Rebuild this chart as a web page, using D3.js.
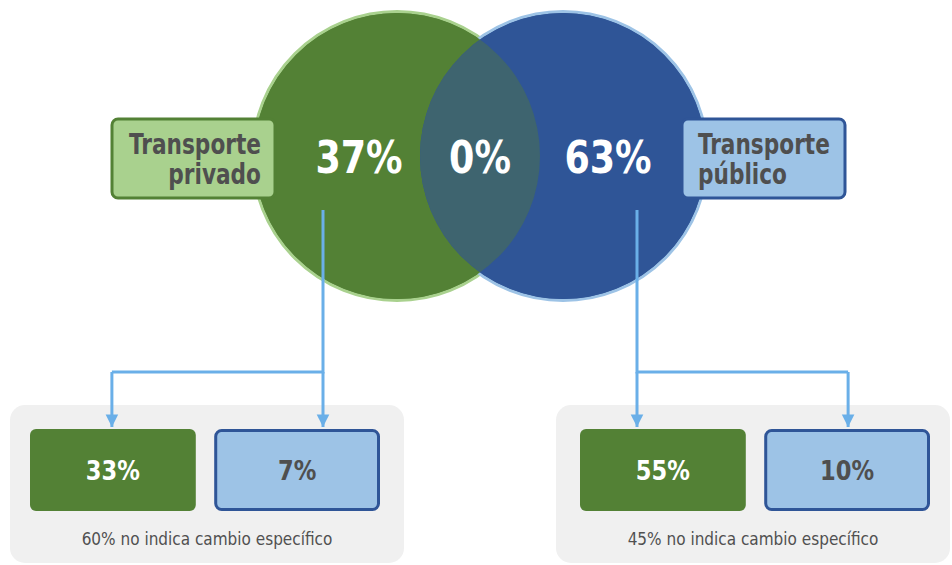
<!DOCTYPE html>
<html>
<head>
<meta charset="utf-8">
<script src="https://cdn.jsdelivr.net/npm/d3@7"></script>
<style>
  body { margin: 0; background: #fff; }
  svg { display: block; }
  text { font-family: "DejaVu Sans Condensed", "DejaVu Sans", sans-serif; }
</style>
</head>
<body>
<svg id="canvas" width="952" height="565"></svg>
<script>
// data
const groups = ["Transporte privado", "Transporte público"];
const groupLines = [["Transporte", "privado"], ["Transporte", "público"]];
const vennValues = [37, 0, 63]; // privado only, both, público only
const subLabels = ["cambio privado", "cambio público"];
const subValues = [[33, 7], [55, 10]];
const noChange = [60, 45];

const green = "#538135", lightGreen = "#a9d18e";
const blue = "#2f5597", lightBlue = "#9dc3e6";
const arrowBlue = "#6aafe8", textGrey = "#4f4f4f";

let canvas = d3.select("#canvas");
let defs = canvas.append("defs");

// venn circles
let cy = 156, r = 143;
let cx = d3.scalePoint().domain(groups).range([397, 563]);

defs.append("clipPath").attr("id", "clipLeft")
  .append("circle").attr("cx", cx(groups[0])).attr("cy", cy).attr("r", r);

// outer rings first, then fills on top so only the outside arcs stay visible
canvas.selectAll("circle.ring")
  .data(groups)
  .enter()
  .append("circle")
  .attr("class", "ring")
  .attr("cx", (g) => cx(g))
  .attr("cy", cy)
  .attr("r", r + 1.5)
  .attr("fill", (g, i) => i === 0 ? green : blue)
  .attr("stroke", (g, i) => i === 0 ? lightGreen : lightBlue)
  .attr("stroke-width", 3);

canvas.selectAll("circle.venn")
  .data(groups)
  .enter()
  .append("circle")
  .attr("class", "venn")
  .attr("cx", (g) => cx(g))
  .attr("cy", cy)
  .attr("r", r)
  .attr("fill", (g, i) => i === 0 ? green : blue);

// overlap lens
canvas.append("circle")
  .attr("cx", cx(groups[1]))
  .attr("cy", cy)
  .attr("r", r)
  .attr("clip-path", "url(#clipLeft)")
  .attr("fill", "#3e646f");

// percentages in venn
let vennX = [359, 480, 608];
canvas.selectAll("text.venn")
  .data(vennValues)
  .enter()
  .append("text")
  .attr("class", "venn")
  .attr("transform", (v, i) => "translate(" + vennX[i] + ",173) scale(0.9,1)")
  .attr("text-anchor", "middle")
  .attr("fill", "#fff")
  .attr("font-size", 45)
  .attr("font-weight", "bold")
  .text((v) => v + "%");

// label boxes
let labelBox = [
  { x: 112, fill: lightGreen, stroke: green, anchor: "end", tx: 261 },
  { x: 682, fill: lightBlue, stroke: blue, anchor: "start", tx: 698 }
];
let label = canvas.selectAll("g.label")
  .data(groups)
  .enter()
  .append("g")
  .attr("class", "label");

label.append("rect")
  .attr("x", (g, i) => labelBox[i].x)
  .attr("y", 119)
  .attr("width", 163)
  .attr("height", 79)
  .attr("rx", 6)
  .attr("fill", (g, i) => labelBox[i].fill)
  .attr("stroke", (g, i) => labelBox[i].stroke)
  .attr("stroke-width", 3);

label.each(function (g, i) {
  d3.select(this).selectAll("text")
    .data(groupLines[i])
    .enter()
    .append("text")
    .attr("transform", (t, j) => "translate(" + labelBox[i].tx + "," + (154 + j * 30) + ") scale(0.86,1)")
    .attr("text-anchor", labelBox[i].anchor)
    .attr("fill", textGrey)
    .attr("font-size", 28)
    .attr("font-weight", "bold")
    .text((t) => t);
});

// bottom panels
let panelX = d3.scaleBand().domain(groups).range([10, 950]).paddingInner(0.2784);
let boxX = d3.scaleBand().domain(subLabels).range([20, 370]).paddingInner(0.1);
let boxShift = [0, 4]; // right panel boxes sit a touch further right
let branchX = [323, 637];
let panelTop = 405;

defs.append("marker")
  .attr("id", "arrow")
  .attr("viewBox", "0 0 10 10")
  .attr("refX", 10)
  .attr("refY", 5)
  .attr("markerWidth", 4.2)
  .attr("markerHeight", 4.8)
  .attr("markerUnits", "strokeWidth")
  .attr("orient", "auto")
  .append("path")
  .attr("d", "M0,0L10,5L0,10Z")
  .attr("fill", arrowBlue);

let panel = canvas.selectAll("g.panel")
  .data(groups)
  .enter()
  .append("g")
  .attr("class", "panel");

panel.append("rect")
  .attr("x", (g) => panelX(g))
  .attr("y", panelTop)
  .attr("width", panelX.bandwidth())
  .attr("height", 158)
  .attr("rx", 15)
  .attr("fill", "#f0f0f0");

panel.each(function (g, i) {
  let px = panelX(g) + boxShift[i];
  let sel = d3.select(this);
  let centers = subLabels.map((s) => px + boxX(s) + boxX.bandwidth() / 2);

  // connector lines
  let from = branchX[i];
  let far = i === 0 ? centers[0] - 1 : centers[1] + 1;
  sel.append("path")
    .attr("d", d3.line()([[from, 210], [from, 372], [far, 372]]))
    .attr("fill", "none")
    .attr("stroke", arrowBlue)
    .attr("stroke-width", 3);
  [from, far].forEach((x) => {
    sel.append("line")
      .attr("x1", x).attr("x2", x)
      .attr("y1", 372).attr("y2", 427)
      .attr("stroke", arrowBlue)
      .attr("stroke-width", 3)
      .attr("marker-end", "url(#arrow)");
  });

  let box = sel.selectAll("g.box")
    .data(subValues[i])
    .enter()
    .append("g")
    .attr("class", "box");

  box.append("rect")
    .attr("x", (v, j) => px + boxX(subLabels[j]) + (j === 0 ? 0 : 1.5))
    .attr("y", (v, j) => j === 0 ? 429 : 430.5)
    .attr("width", (v, j) => boxX.bandwidth() - (j === 0 ? 0 : 3))
    .attr("height", (v, j) => j === 0 ? 82 : 79)
    .attr("rx", 6)
    .attr("fill", (v, j) => j === 0 ? green : lightBlue)
    .attr("stroke", (v, j) => j === 0 ? "none" : blue)
    .attr("stroke-width", 3);

  box.append("text")
    .attr("transform", (v, j) => "translate(" + centers[j] + ",480) scale(0.93,1)")
    .attr("text-anchor", "middle")
    .attr("fill", (v, j) => j === 0 ? "#fff" : textGrey)
    .attr("font-size", 27)
    .attr("font-weight", "bold")
    .text((v) => v + "%");

  sel.append("text")
    .attr("x", panelX(g) + panelX.bandwidth() / 2)
    .attr("y", 545)
    .attr("text-anchor", "middle")
    .attr("fill", "#505050")
    .attr("font-size", 17)
    .text(noChange[i] + "% no indica cambio específico");
});
</script>
</body>
</html>
